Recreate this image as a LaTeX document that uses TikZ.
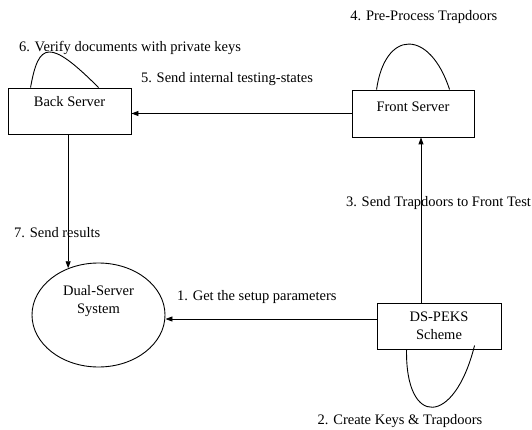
\documentclass[tikz,border=0pt]{standalone}
\usepackage{fontspec}
\setmainfont{Liberation Serif}
\usetikzlibrary{positioning, shapes.geometric, arrows.meta}

\begin{document}
\begin{tikzpicture}[x=1pt, y=1pt, line width=0.9pt, >={Triangle[length=7pt, width=5pt]},
  font=\fontsize{14.5}{18}\selectfont,
  main/.style = {draw, rectangle, minimum width=123pt, minimum height=46pt, align=center},
  lbl/.style = {inner sep=3pt}]
\useasboundingbox (0,0) rectangle (532,429);
\node[main, text depth=20pt] (back) at (69.5,318) {Back Server};
\node[main, minimum width=122pt, minimum height=47pt, text depth=13pt] (front) at (413,315.5) {Front Server};
\node[draw, ellipse, minimum width=133pt, minimum height=104pt, align=center, text depth=32pt] (dual) at (98.5,114) {Dual-Server\\System};
\node[main, minimum width=124pt] (peks) at (439,103) {DS-PEKS\\Scheme};
\draw[->] (front.west) -- node[lbl, pos=0.566, above=24pt] {5. Send internal testing-states} (front.west -| back.east);
\draw ([xshift=23pt]back.north west) to[out=80, in=135, out distance=46pt, in distance=70pt] node[lbl, midway, xshift=81pt, yshift=4pt] {6. Verify documents with private keys} ([xshift=91pt]back.north west);
\draw ([xshift=25pt]front.north west) to[out=82, in=108, out distance=61pt, in distance=64pt] node[lbl, midway, above=17pt, xshift=15pt] {4. Pre-Process Trapdoors} ([xshift=98pt]front.north west);
\draw[->] (dual.123 |- back.south) -- node[lbl, pos=0.735, xshift=-11pt] {7. Send results} (dual.123);
\draw[->] ([yshift=7pt]peks.west) -- node[lbl, pos=0.567, above=12pt] {1. Get the setup parameters} ([yshift=7pt]peks.west -| dual.east);
\draw[->] ([xshift=-18pt]peks.north) -- node[lbl, pos=0.6, xshift=17.5pt] {3. Send Trapdoors to Front Test} ([xshift=-18pt]peks.north |- front.south);
\draw ([xshift=30pt]peks.south west) to[out=269, in=256, out distance=78pt, in distance=84pt] node[lbl, midway, below=4pt, xshift=-32.5pt] {2. Create Keys \& Trapdoors} ([xshift=98pt, yshift=4pt]peks.south west);
\end{tikzpicture}
\end{document}
